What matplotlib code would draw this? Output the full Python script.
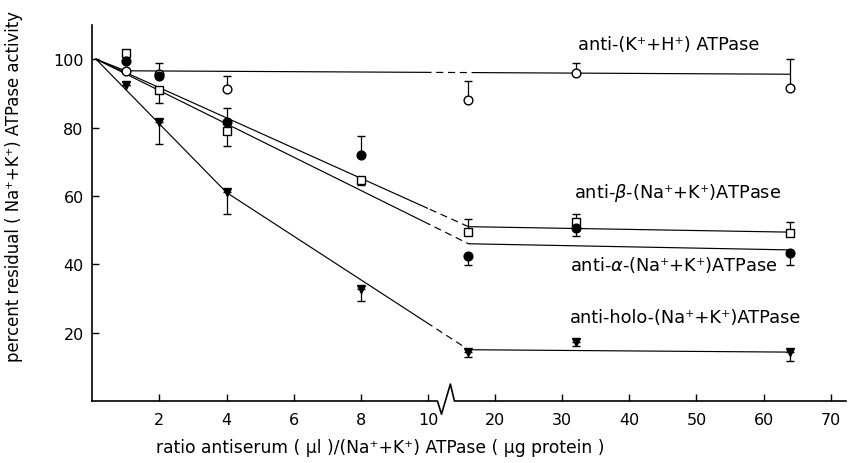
import numpy as np
import matplotlib
matplotlib.use("Agg")
import matplotlib.pyplot as plt
from matplotlib.patches import Rectangle
from matplotlib.transforms import blended_transform_factory

# ---------------- data ----------------
x_pts = [1, 2, 4, 8, 16, 32, 64]

# anti-(K+ + H+) ATPase  (open circles)
kh_x = [1, 2, 4, 16, 32, 64]
kh_y = [96.6, 95.8, 91.4, 88.0, 95.9, 91.7]
kh_lo = [0, 0, 0, 0, 0, 0]
kh_hi = [0, 3.2, 3.7, 5.6, 2.9, 8.3]

# anti-beta-(Na+ + K+) ATPase  (open squares)
beta_y = [101.8, 90.9, 78.9, 64.8, 49.4, 52.4, 49.1]
beta_lo = [0, 3.8, 4.2, 1.5, 0, 0, 0]
beta_hi = [0, 0, 0, 0, 3.8, 2.3, 3.3]

# anti-alpha-(Na+ + K+) ATPase  (filled circles)
alpha_y = [99.4, 95.2, 81.7, 72.0, 42.4, 50.6, 43.3]
alpha_lo = [0, 0, 0, 0, 2.6, 2.3, 3.5]
alpha_hi = [0, 0, 4.0, 5.5, 0, 0, 0]

# anti-holo-(Na+ + K+) ATPase  (filled triangles)
holo_y = [92.5, 81.5, 61.2, 32.7, 14.3, 17.3, 14.3]
holo_lo = [0, 6.2, 6.5, 3.5, 1.4, 1.1, 2.5]
holo_hi = [0, 0, 0, 0, 0, 0, 0]

# drawn (fitted) lines
fit_kh_x, fit_kh_y = [0.12, 1, 64], [100, 96.6, 95.6]
fit_beta_x, fit_beta_y = [0.12, 16, 64], [100, 51.0, 49.4]
fit_alpha_x, fit_alpha_y = [0.12, 16, 64], [100, 46.0, 44.2]
fit_holo_x, fit_holo_y = [0.12, 4, 16, 64], [100, 61.0, 15.0, 14.3]

x_ticks = [2, 4, 6, 8, 10, 20, 30, 40, 50, 60, 70]
y_ticks = [20, 40, 60, 80, 100]

labels = {
    "kh": "anti-(K\u207a+H\u207a) ATPase",
    "beta": "anti-$\\beta$-(Na\u207a+K\u207a)ATPase",
    "alpha": "anti-$\\alpha$-(Na\u207a+K\u207a)ATPase",
    "holo": "anti-holo-(Na\u207a+K\u207a)ATPase",
}

# ---------------- broken x scale ----------------
R = 0.1994


def fwd(x):
    x = np.asarray(x, dtype=float)
    return np.where(x <= 10, x, 10 + (x - 10) * R)


def inv(y):
    y = np.asarray(y, dtype=float)
    return np.where(y <= 10, y, 10 + (y - 10) / R)


plt.rcParams['font.family'] = ['DejaVu Sans']
plt.rcParams['mathtext.fontset'] = 'dejavusans'

fig = plt.figure(figsize=(8.48, 4.64), dpi=100)
ax = fig.add_axes([92 / 848, 62 / 464, (846 - 92) / 848, (402 - 26) / 464])
ax.set_xscale('function', functions=(fwd, inv))
ax.set_xlim(0, 72.3)
ax.set_ylim(0, 110)

lw = 0.85
bl = blended_transform_factory(ax.transData, ax.transAxes)


def seg_line(xs, ys, d0=10, d1=16):
    parts = [(0, d0, '-'), (d0, d1, (0, (6, 4))), (d1, 80, '-')]
    for a, b, ls in parts:
        ln, = ax.plot(xs, ys, color='black', lw=lw, linestyle=ls, zorder=2)
        r = Rectangle((a, -0.2), b - a, 1.4, transform=bl)
        ln.set_clip_path(r)


seg_line(fit_kh_x, fit_kh_y, 10.2, 17)
seg_line(fit_beta_x, fit_beta_y)
seg_line(fit_alpha_x, fit_alpha_y)
seg_line(fit_holo_x, fit_holo_y)

ekw = dict(ecolor='black', elinewidth=0.9, capsize=3.2, capthick=0.9, linestyle='none',
           markeredgecolor='black', markeredgewidth=1.0)
ax.errorbar(kh_x, kh_y, yerr=[kh_lo, kh_hi], fmt='o', ms=6.3, mfc='white', zorder=3, **ekw)
ax.errorbar(x_pts, beta_y, yerr=[beta_lo, beta_hi], fmt='s', ms=6.3, mfc='white', zorder=3, **ekw)
ax.errorbar(x_pts, holo_y, yerr=[holo_lo, holo_hi], fmt='v', ms=6.3, mfc='black', zorder=3, **ekw)
ax.errorbar(x_pts, alpha_y, yerr=[alpha_lo, alpha_hi], fmt='o', ms=6.3, mfc='black', zorder=4, **ekw)

# text labels
fs = 12.8
ax.text(32.3, 104.4, labels["kh"], fontsize=fs, va='center', ha='left')
ax.text(31.8, 61.1, labels["beta"], fontsize=fs, va='center', ha='left')
ax.text(31.1, 40.1, labels["alpha"], fontsize=fs, va='center', ha='left')
ax.text(31.1, 24.6, labels["holo"], fontsize=fs, va='center', ha='left')

# axes styling
for s in ['top', 'right', 'bottom']:
    ax.spines[s].set_visible(False)
ax.spines['left'].set_linewidth(1.2)

# bottom axis line with break zigzag
ax.plot([0, 11.37, 11.97, 13.3, 13.9, 72.3], [0, 0, -0.035, 0.045, 0, 0],
        transform=bl, color='black', lw=1.2, clip_on=False, zorder=5)

ax.set_xticks(x_ticks)
ax.set_xticklabels([str(t) for t in x_ticks])
ax.set_yticks(y_ticks)
ax.set_yticklabels([str(t) for t in y_ticks])
ax.xaxis.set_minor_locator(matplotlib.ticker.NullLocator())
ax.tick_params(axis='both', direction='in', length=5, width=1.0, labelsize=11.5)
ax.tick_params(axis='x', pad=8)
ax.tick_params(axis='y', pad=6)

ax.set_xlabel("ratio antiserum ( \u00b5l )/(Na\u207a+K\u207a) ATPase ( \u00b5g protein )", fontsize=12.3)
ax.xaxis.label.set_va('center')
ax.xaxis.set_label_coords(0.382, -0.122)
ax.set_ylabel("percent residual ( Na\u207a+K\u207a) ATPase activity", fontsize=11.9)
ax.yaxis.label.set_va('center')
ax.yaxis.set_label_coords(-0.103, 0.572)

fig.savefig("out.png", dpi=100)
